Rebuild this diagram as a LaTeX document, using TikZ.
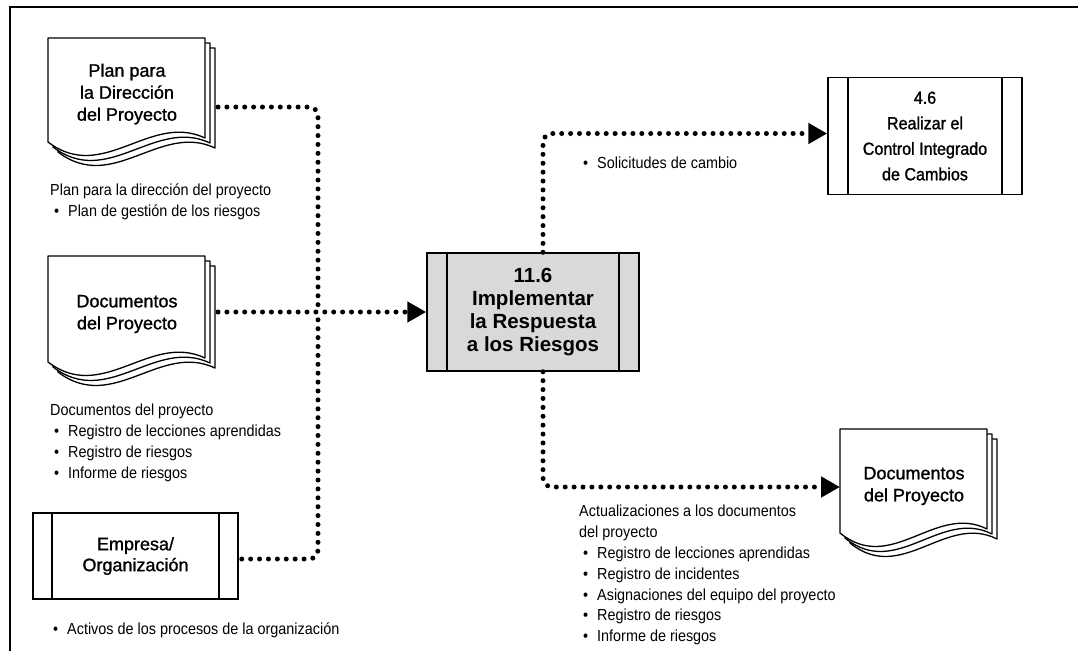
\documentclass[tikz,border=0pt]{standalone}
\usepackage{fontspec}
\setmainfont{Liberation Sans}[FakeStretch=0.9]
\newfontfamily\titlefont{Liberation Sans}[FakeBold=1.2]
\newfontfamily\narrowtitlefont{Liberation Sans}[FakeStretch=0.92,FakeBold=1.2]
\newfontfamily\procfont{Liberation Sans}
\usetikzlibrary{arrows.meta}
\newcommand\bul{\hspace*{4pt}\makebox[14pt][l]{\textbullet}}
\tikzset{
  x=1pt, y=-1pt,
  flow/.style={line width=5pt, dash pattern=on 0pt off 8.9pt, line cap=round, rounded corners=9pt},
  arr/.style={-{Triangle[length=19pt,width=20pt]}},
  page/.style={draw, line width=1.3pt, fill=white, line join=round},
  pics/docstack/.style 2 args={code={
    \foreach \s in {10,5,0}{
      \begin{scope}[shift={(\s,\s)}]
        \path[page] (0,0) -- (#1,0) -- (#1,#2-4)
          .. controls (0.65*#1,#2-30) and (0.35*#1,#2+42) .. (0,#2) -- cycle;
      \end{scope}
    }
  }},
  docnode/.style={inner sep=0pt, outer sep=0pt, anchor=north west},
  boxtitle/.style={align=center, font=\titlefont\fontsize{18}{22}\selectfont},
  proc/.style={draw, line width=1.5pt, inner sep=0pt, fill=white,
    path picture={
      \draw[line width=1.5pt] ([xshift=#1]path picture bounding box.north west) -- ([xshift=#1]path picture bounding box.south west);
      \draw[line width=1.5pt] ([xshift=-#1]path picture bounding box.north east) -- ([xshift=-#1]path picture bounding box.south east);
    }},
  lbl/.style={anchor=north west, inner sep=0pt, align=left, font=\fontsize{16}{21}\selectfont},
}
\begin{document}
\begin{tikzpicture}
\useasboundingbox (0,0) rectangle (1078,651);
% frame
\draw[line width=2.5pt] (10,651) -- (10,7) -- (1078,7);

% document stacks
\pic at (48,38) {docstack={157}{104}};
\pic at (48,256) {docstack={157}{106}};
\pic at (840,429) {docstack={147}{104}};
\node[docnode, minimum width=167pt, minimum height=104pt] (d1) at (48,38) {};
\node[docnode, minimum width=167pt, minimum height=106pt] (d2) at (48,256) {};
\node[docnode, minimum width=147pt, minimum height=104pt] (d3) at (840,429) {};
\node[boxtitle] (d1t) at (127,94) {Plan para\\la Dirección\\del Proyecto};
\node[boxtitle] (d2t) at (127,314) {Documentos\\del Proyecto};
\node[boxtitle] (d3t) at (914,486) {Documentos\\del Proyecto};

% process boxes
\node[proc=19pt, minimum width=205pt, minimum height=86pt, boxtitle, font=\titlefont\fontsize{18}{21}\selectfont] (E) at (135.5,556) {Empresa/\\Organización};
\node[proc=20pt, fill=black!15, minimum width=212pt, minimum height=118pt, boxtitle,
  font=\procfont\bfseries\fontsize{20.5}{23.3}\selectfont] (P) at (533,312) {11.6\\Implementar\\la Respuesta\\a los Riesgos};
\node[proc=20pt, minimum width=194pt, minimum height=117pt, boxtitle,
  font=\narrowtitlefont\fontsize{17.5}{25.5}\selectfont] (B) at (925,136) {4.6\\Realizar el\\Control Integrado\\de Cambios};

% labels
\node[lbl] (l1) at (50,184) {Plan para la dirección del proyecto\\\bul Plan de gestión de los riesgos};
\node[lbl] (l2) at (50,404) {Documentos del proyecto\\\bul Registro de lecciones aprendidas\\\bul Registro de riesgos\\\bul Informe de riesgos};
\node[lbl] (l3) at (49,623) {\bul Activos de los procesos de la organización};
\node[lbl] (l4) at (579,157) {\bul Solicitudes de cambio};
\node[lbl, font=\fontsize{16}{20.8}\selectfont] (l5) at (579,505) {Actualizaciones a los documentos\\del proyecto\\\bul Registro de lecciones aprendidas\\\bul Registro de incidentes\\\bul Asignaciones del equipo del proyecto\\\bul Registro de riesgos\\\bul Informe de riesgos};

% connectors
\coordinate (J) at (318,312);
\draw[flow] ([shift={(3pt,-17pt)}]d1.east) -| (J);
\draw[flow] ([shift={(3pt,-3pt)}]E.east) -| (J);
\draw[flow, arr] ([shift={(3pt,-3pt)}]d2.east) -- (P.west);
\draw[flow, arr] ([xshift=10pt]P.north) |- ([yshift=2.5pt]B.west);
\draw[flow, arr] ([xshift=10pt]P.south) |- ([yshift=-6pt]d3.west);
\end{tikzpicture}
\end{document}
